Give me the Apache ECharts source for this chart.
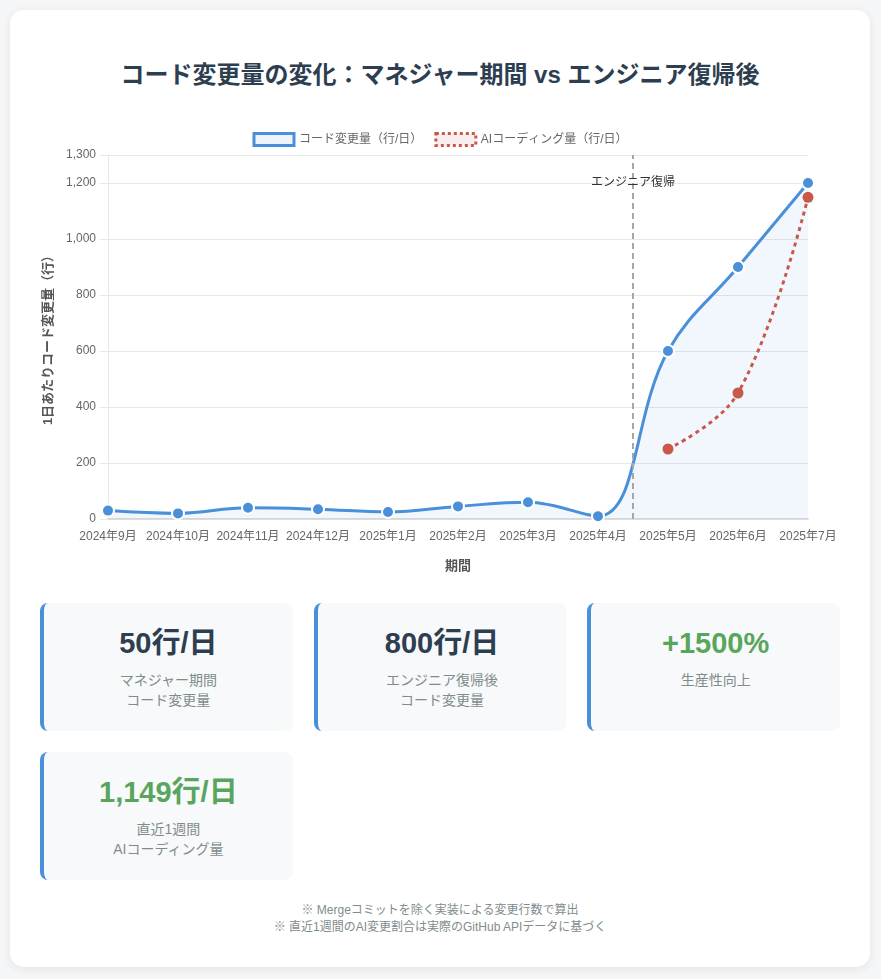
<!DOCTYPE html>
<html lang="ja">
<head>
<meta charset="utf-8">
<title>コード変更量の変化</title>
<script src="https://cdn.jsdelivr.net/npm/echarts@6/dist/echarts.min.js"></script>
<style>
  body {
    margin: 0;
    padding: 10px;
    background: #f5f6f8;
    font-family: "Helvetica Neue", Arial, "Noto Sans CJK JP", sans-serif;
  }
  .card {
    width: 860px;
    height: 957px;
    box-sizing: border-box;
    padding: 30px;
    background: #fff;
    border-radius: 14px;
    box-shadow: 0 2px 10px rgba(0, 0, 0, 0.08);
  }
  h1 {
    margin: 20px 0 35px;
    height: 30px;
    line-height: 30px;
    text-align: center;
    font-size: 24px;
    font-weight: bold;
    color: #2c3e50;
  }
  #chart {
    width: 800px;
    height: 450px;
  }
  .stats {
    margin-top: 28px;
    display: grid;
    grid-template-columns: repeat(3, 1fr);
    gap: 21px;
  }
  .stat {
    height: 128px;
    box-sizing: border-box;
    padding: 20px;
    padding-top: 22px;
    background: #f8f9fa;
    border-left: 4px solid #4a90d9;
    border-radius: 8px;
    text-align: center;
  }
  .num {
    font-size: 29px;
    line-height: 36px;
    font-weight: bold;
    color: #2c3e50;
    margin-bottom: 9px;
  }
  .num.up { color: #58a65e; }
  .label {
    font-size: 14px;
    line-height: 20px;
    color: #7f8c8d;
  }
  .note {
    margin-top: 22px;
    text-align: center;
    font-size: 12px;
    line-height: 17px;
    color: #7f8c8d;
  }
</style>
</head>
<body>
<div class="card">
  <h1>コード変更量の変化：マネジャー期間 vs エンジニア復帰後</h1>
  <div id="chart"></div>
  <div class="stats">
    <div class="stat"><div class="num">50行/日</div><div class="label">マネジャー期間<br>コード変更量</div></div>
    <div class="stat"><div class="num">800行/日</div><div class="label">エンジニア復帰後<br>コード変更量</div></div>
    <div class="stat"><div class="num up">+1500%</div><div class="label">生産性向上</div></div>
    <div class="stat"><div class="num up">1,149行/日</div><div class="label">直近1週間<br>AIコーディング量</div></div>
  </div>
  <div class="note">※ Mergeコミットを除く実装による変更行数で算出<br>※ 直近1週間のAI変更割合は実際のGitHub APIデータに基づく</div>
</div>
<script>
const months = ['2024年9月', '2024年10月', '2024年11月', '2024年12月', '2025年1月', '2025年2月',
  '2025年3月', '2025年4月', '2025年5月', '2025年6月', '2025年7月']
const codeLines = [30, 20, 40, 35, 25, 45, 60, 10, 600, 900, 1200]
const aiLines = [null, null, null, null, null, null, null, null, 250, 450, 1149]
const yTicks = [0, 200, 400, 600, 800, 1000, 1200, 1300]
const returnPos = 7.5 // between 2025年4月 and 2025年5月

const blue = '#4a90d9'
const red = '#c8594a'
const font = '"Helvetica Neue", Arial, "Noto Sans CJK JP", sans-serif'

const chart = echarts.init(document.getElementById('chart'))

chart.setOption({
  textStyle: { fontFamily: font },
  legend: {
    top: 2,
    itemWidth: 40,
    itemHeight: 12,
    itemGap: 12,
    textStyle: { fontSize: 12, color: '#666' },
    data: [
      {
        name: 'コード変更量（行/日）',
        icon: 'rect',
        itemStyle: { color: 'rgba(74,144,226,0.1)', borderColor: blue, borderWidth: 3 }
      },
      {
        name: 'AIコーディング量（行/日）',
        icon: 'rect',
        itemStyle: { color: 'rgba(200,89,74,0.1)', borderColor: red, borderWidth: 3, borderType: 'dotted' }
      }
    ]
  },
  grid: { left: 68, right: 32, top: 30, bottom: 56, outerBoundsMode: 'none' },
  xAxis: [
    {
      type: 'category',
      data: months,
      boundaryGap: false,
      name: '期間',
      nameLocation: 'middle',
      nameGap: 41,
      nameTextStyle: { fontSize: 13, fontWeight: 'bold', color: '#555' },
      axisLine: { lineStyle: { color: '#dcdcdc', width: 2 } },
      axisTick: { show: false },
      axisLabel: { fontSize: 12, color: '#666', margin: 12, interval: 0 },
      splitLine: { show: false }
    },
    { type: 'value', min: 0, max: 10, show: false }
  ],
  yAxis: {
    type: 'value',
    min: 0,
    max: 1300,
    name: '1日あたりコード変更量（行）',
    nameLocation: 'middle',
    nameGap: 48,
    nameTextStyle: { fontSize: 13, fontWeight: 'bold', color: '#555' },
    axisLine: { show: true, lineStyle: { color: '#e8e8e8' } },
    axisTick: { show: true, customValues: yTicks, length: 8, lineStyle: { color: '#e8e8e8' } },
    axisLabel: {
      customValues: yTicks,
      fontSize: 12,
      color: '#666',
      margin: 12,
      formatter: (v) => v.toLocaleString('en-US')
    },
    splitLine: { lineStyle: { color: '#e8e8e8' } }
  },
  series: [
    {
      name: 'コード変更量（行/日）',
      type: 'line',
      data: codeLines,
      smooth: 0.4,
      symbol: 'circle',
      symbolSize: 12,
      color: blue,
      lineStyle: { width: 3, color: blue },
      itemStyle: { color: blue, borderColor: '#fff', borderWidth: 2 },
      areaStyle: { color: 'rgba(74,144,226,0.1)' },
      z: 3
    },
    {
      name: 'AIコーディング量（行/日）',
      type: 'line',
      data: aiLines,
      smooth: 0.4,
      symbol: 'circle',
      symbolSize: 11,
      color: red,
      lineStyle: { width: 3, color: red, type: [4, 4] },
      itemStyle: { color: red },
      z: 4
    },
    {
      name: 'marker',
      type: 'line',
      xAxisIndex: 1,
      data: [],
      silent: true,
      markLine: {
        symbol: 'none',
        silent: true,
        label: { show: false },
        lineStyle: { color: '#a6a6a6', type: [6, 4], width: 2 },
        data: [{ xAxis: returnPos }]
      },
      markPoint: {
        symbol: 'circle',
        symbolSize: 0,
        silent: true,
        label: { show: true, position: 'inside', formatter: 'エンジニア復帰', fontSize: 12, color: '#333' },
        data: [{ coord: [returnPos, 1200] }]
      }
    }
  ]
})
</script>
</body>
</html>
